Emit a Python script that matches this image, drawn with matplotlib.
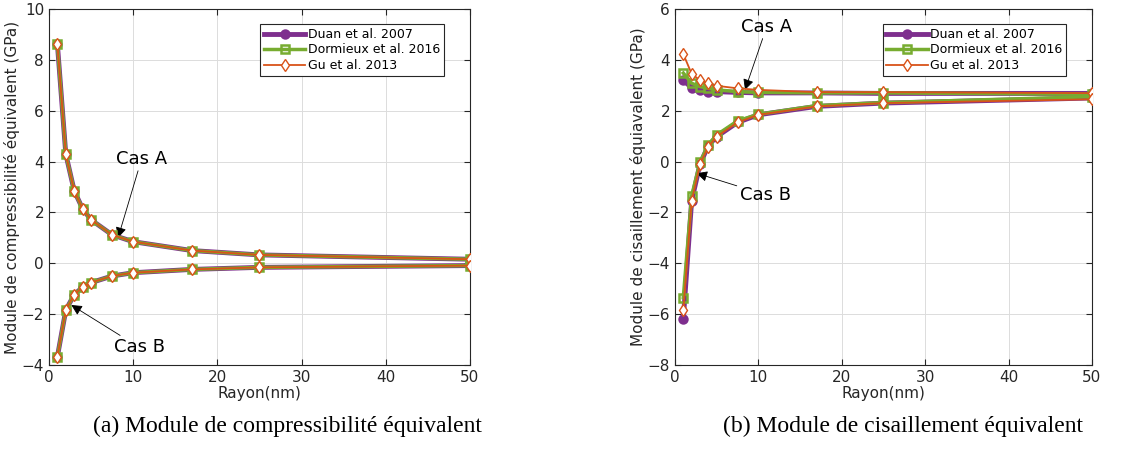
import matplotlib.pyplot as plt

# Rayon (nm)
rayon = [1, 2, 3, 4, 5, 7.5, 10, 17, 25, 50]

# (a) Module de compressibilite - Cas A / Cas B (the three models overlap)
k_duan_a = [8.62, 4.29, 2.85, 2.14, 1.71, 1.12, 0.85, 0.50, 0.33, 0.16]
k_dorm_a = [8.62, 4.29, 2.85, 2.14, 1.71, 1.12, 0.85, 0.50, 0.33, 0.16]
k_gu_a = [8.62, 4.29, 2.85, 2.14, 1.71, 1.12, 0.85, 0.50, 0.33, 0.16]
k_duan_b = [-3.67, -1.84, -1.23, -0.94, -0.76, -0.50, -0.37, -0.24, -0.16, -0.09]
k_dorm_b = [-3.67, -1.84, -1.23, -0.94, -0.76, -0.50, -0.37, -0.24, -0.16, -0.09]
k_gu_b = [-3.67, -1.84, -1.23, -0.94, -0.76, -0.50, -0.37, -0.24, -0.16, -0.09]

# (b) Module de cisaillement - Cas A / Cas B
g_duan_a = [3.20, 2.90, 2.80, 2.75, 2.75, 2.72, 2.70, 2.70, 2.68, 2.68]
g_dorm_a = [3.48, 3.08, 2.95, 2.88, 2.82, 2.75, 2.72, 2.70, 2.70, 2.65]
g_gu_a = [4.23, 3.45, 3.20, 3.08, 2.98, 2.88, 2.82, 2.73, 2.73, 2.69]
g_duan_b = [-6.20, -1.55, -0.10, 0.63, 0.98, 1.54, 1.84, 2.17, 2.30, 2.50]
g_dorm_b = [-5.35, -1.35, -0.03, 0.66, 1.05, 1.60, 1.86, 2.20, 2.32, 2.55]
g_gu_b = [-5.84, -1.55, -0.10, 0.59, 0.98, 1.54, 1.84, 2.17, 2.30, 2.45]

labels = ['Duan et al. 2007', 'Dormieux et al. 2016', 'Gu et al. 2013']
c_duan, c_dorm, c_gu = '#7E2F8E', '#77AC30', '#D95319'
txt = '#262626'

fig = plt.figure(figsize=(11.44, 4.66), dpi=100)
ax1 = fig.add_axes([0.0428, 0.2167, 0.368, 0.764])
ax2 = fig.add_axes([0.590, 0.2167, 0.3645, 0.764])


def draw(ax, a_sets, b_sets):
    styles = [
        dict(color=c_duan, lw=3.5, marker='o', ms=5.5, mfc=c_duan, mew=2, zorder=3),
        dict(color=c_dorm, lw=2.5, marker='s', ms=5.5, mfc='none', mew=1.8, zorder=4),
        dict(color=c_gu, lw=1.3, marker='d', ms=6, mfc='white', mew=1.0, zorder=5),
    ]
    for ya, yb, st, lab in zip(a_sets, b_sets, styles, labels):
        ax.plot(rayon, ya, label=lab, **st)
        ax.plot(rayon, yb, **st)
    ax.set_xlim(0, 50)
    ax.set_xticks([0, 10, 20, 30, 40, 50])
    ax.grid(True, color='#dcdcdc', lw=0.7)
    ax.set_axisbelow(True)
    ax.tick_params(direction='in', top=True, right=True, colors=txt,
                   labelsize=11, length=4)
    for s in ax.spines.values():
        s.set_color(txt)
        s.set_linewidth(0.8)
    ax.set_xlabel('Rayon(nm)', fontsize=11, color=txt, labelpad=1)
    leg = ax.legend(loc='upper right', bbox_to_anchor=(0.953, 0.975),
                    fontsize=9, handlelength=3.3, borderpad=0.3,
                    labelspacing=0.2, handletextpad=0.2, fancybox=False,
                    framealpha=1, edgecolor=txt)
    leg.get_frame().set_linewidth(0.8)


draw(ax1, [k_duan_a, k_dorm_a, k_gu_a], [k_duan_b, k_dorm_b, k_gu_b])
ax1.set_ylim(-4, 10)
ax1.set_yticks(range(-4, 11, 2))
ax1.set_ylabel('Module de compressibilité équivalent (GPa)', fontsize=11, color=txt, labelpad=1)

draw(ax2, [g_duan_a, g_dorm_a, g_gu_a], [g_duan_b, g_dorm_b, g_gu_b])
ax2.set_ylim(-8, 6)
ax2.set_yticks(range(-8, 7, 2))
ax2.set_ylabel('Module de cisaillement équiavalent (GPa)', fontsize=11, color=txt, labelpad=1)

arrow = dict(arrowstyle='-|>', color='black', lw=0.6, mutation_scale=16, shrinkA=0, shrinkB=0)
ax1.annotate('Cas A', xy=(8.2, 1.0), xytext=(11.0, 4.1), fontsize=13,
             ha='center', va='center', arrowprops=arrow)
ax1.annotate('Cas B', xy=(2.65, -1.64), xytext=(10.7, -3.3), fontsize=13,
             ha='center', va='center', arrowprops=arrow)
ax2.annotate('Cas A', xy=(8.4, 2.82), xytext=(11.0, 5.3), fontsize=13,
             ha='center', va='center', arrowprops=arrow)
ax2.annotate('Cas B', xy=(2.6, -0.46), xytext=(10.8, -1.3), fontsize=13,
             ha='center', va='center', arrowprops=arrow)

fig.text(0.251, 0.084, '(a) Module de compressibilité équivalent',
         family='Liberation Serif', fontsize=17, ha='center', va='center')
fig.text(0.789, 0.084, '(b) Module de cisaillement équivalent',
         family='Liberation Serif', fontsize=17, ha='center', va='center')

fig.savefig('out.png', dpi=100)
